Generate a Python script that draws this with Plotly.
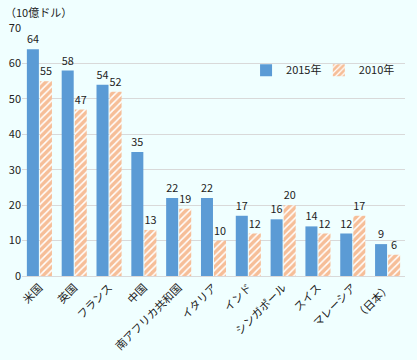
import plotly.graph_objects as go

categories = ["米国", "英国", "フランス", "中国", "南アフリカ共和国", "イタリア", "インド",
              "シンガポール", "スイス", "マレーシア", "（日本）"]
v2015 = [64, 58, 54, 35, 22, 22, 17, 16, 14, 12, 9]
v2010 = [55, 47, 52, 13, 19, 10, 12, 20, 12, 17, 6]
yticks = [0, 10, 20, 30, 40, 50, 60, 70]

blue = "#5B9BD5"
orange = "#ED7D31"
font = "Noto Sans CJK JP"

fig = go.Figure()
fig.add_trace(go.Bar(
    x=categories, y=v2015, name="2015年", legend="legend",
    marker=dict(color=blue, line=dict(width=0)),
    text=v2015, textposition="outside", cliponaxis=False,
    textfont=dict(size=11, color="#222"),
))
fig.add_trace(go.Bar(
    x=categories, y=v2010, name="2010年", legend="legend2",
    marker=dict(color=orange, line=dict(width=0),
                pattern=dict(shape="/", bgcolor="white", fgcolor=orange,
                             size=5, solidity=0.7)),
    text=v2010, textposition="outside", cliponaxis=False,
    textfont=dict(size=11, color="#222"),
))

leg = dict(orientation="h", y=0.83, xanchor="left", yanchor="middle",
           bgcolor="rgba(0,0,0,0)", font=dict(size=11), itemwidth=30)

fig.update_layout(
    width=417, height=360,
    margin=dict(l=22, r=12, t=28, b=84, autoexpand=False),
    paper_bgcolor="#F0FFFF", plot_bgcolor="#F0FFFF",
    font=dict(family=font, size=11, color="#222"),
    barmode="group", bargap=0.25, bargroupgap=0.08,
    showlegend=True,
    legend=dict(leg, x=0.585),
    legend2=dict(leg, x=0.775),
    annotations=[dict(text="（10億ドル）", xref="paper", yref="paper",
                      x=-0.05, y=1.065, xanchor="left", yanchor="middle",
                      showarrow=False, font=dict(size=11, color="#222"))],
)
fig.update_xaxes(tickangle=-45, showline=True, linecolor="#d9d9d9",
                 ticks="", tickfont=dict(size=11), automargin=False)
fig.update_yaxes(range=[0, 70], tickvals=yticks, showgrid=True, gridcolor="#d9d9d9",
                 zeroline=False, ticks="", tickfont=dict(size=11), automargin=False)

fig.write_html("out.html", config={"displayModeBar": False},
               post_script="document.body.style.margin='0';document.body.style.background='#F0FFFF';")
